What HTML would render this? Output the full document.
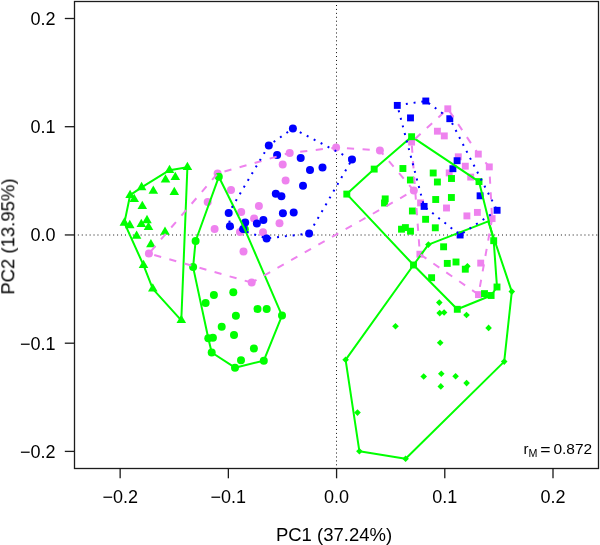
<!DOCTYPE html>
<html><head><meta charset="utf-8">
<style>
html,body{margin:0;padding:0;background:#fff;width:600px;height:545px;overflow:hidden}
svg{display:block;will-change:transform}
text{font-family:"Liberation Sans",sans-serif;fill:#000}
</style></head>
<body>
<svg width="600" height="545" viewBox="0 0 600 545">
<defs><filter id="b" x="0" y="0" width="1" height="1"><feGaussianBlur stdDeviation="0.3"/></filter></defs>
<g filter="url(#b)">
<rect width="600" height="545" fill="#fff"/>
<g stroke="#111" stroke-width="1" fill="none">
<line x1="77.83" y1="235" x2="598" y2="235" stroke-dasharray="1 2.9274"/>
<line x1="336.5" y1="5.01" x2="336.5" y2="468" stroke-dasharray="1 2.9256"/>
</g>
<g fill="#ee82ee"><circle cx="148.9" cy="253.5" r="4"/><circle cx="217.6" cy="173.5" r="4"/><circle cx="231" cy="190" r="4"/><circle cx="207.7" cy="202" r="4"/><circle cx="214.6" cy="229.1" r="4"/><circle cx="241.2" cy="212.1" r="4"/><circle cx="258.9" cy="206" r="4"/><circle cx="254.1" cy="218.6" r="4"/><circle cx="240" cy="232" r="4"/><circle cx="263" cy="232.2" r="4"/><circle cx="279.5" cy="223.2" r="4"/><circle cx="243.5" cy="251.6" r="4"/><circle cx="251.7" cy="282.6" r="4"/><circle cx="289.7" cy="152.9" r="4"/><circle cx="282.7" cy="164.4" r="4"/><circle cx="285.6" cy="180.5" r="4"/><circle cx="336.1" cy="147.6" r="4"/><circle cx="379.9" cy="150.5" r="4"/><circle cx="413.8" cy="190.5" r="4"/><rect x="444.35" y="105.35" width="6.9" height="6.9"/><rect x="433.95" y="127.75" width="6.9" height="6.9"/><rect x="440.85" y="132.45" width="6.9" height="6.9"/><rect x="408.15" y="138.65" width="6.9" height="6.9"/><rect x="474.85" y="150.65" width="6.9" height="6.9"/><rect x="454.85" y="153.35" width="6.9" height="6.9"/><rect x="461.85" y="162.75" width="6.9" height="6.9"/><rect x="485.85" y="163.45" width="6.9" height="6.9"/><rect x="445.75" y="169.45" width="6.9" height="6.9"/><rect x="467.25" y="173.65" width="6.9" height="6.9"/><rect x="417.15" y="199.45" width="6.9" height="6.9"/><rect x="443.05" y="204.55" width="6.9" height="6.9"/><rect x="473.95" y="208.95" width="6.9" height="6.9"/><rect x="463.45" y="212.45" width="6.9" height="6.9"/><rect x="488.65" y="215.15" width="6.9" height="6.9"/><rect x="416.45" y="250.75" width="6.9" height="6.9"/><rect x="477.25" y="259.65" width="6.9" height="6.9"/><rect x="475.05" y="291.15" width="6.9" height="6.9"/></g>
<g fill="#00ff00"><path d="M169.5 164.66L174.3 172.97L164.7 172.97z"/><path d="M187.4 161.66L192.2 169.97L182.6 169.97z"/><path d="M175.3 171.76L180.1 180.07L170.5 180.07z"/><path d="M165.5 174.26L170.3 182.57L160.7 182.57z"/><path d="M141.6 181.86L146.4 190.17L136.8 190.17z"/><path d="M153.3 185.56L158.1 193.87L148.5 193.87z"/><path d="M174.3 186.76L179.1 195.07L169.5 195.07z"/><path d="M130.1 189.66L134.9 197.97L125.3 197.97z"/><path d="M134.2 193.66L139 201.97L129.4 201.97z"/><path d="M142.3 200.66L147.1 208.97L137.5 208.97z"/><path d="M124.4 217.36L129.2 225.67L119.6 225.67z"/><path d="M129.8 219.86L134.6 228.17L125 228.17z"/><path d="M141.3 218.76L146.1 227.07L136.5 227.07z"/><path d="M147 214.86L151.8 223.17L142.2 223.17z"/><path d="M148.5 221.76L153.3 230.07L143.7 230.07z"/><path d="M165 226.56L169.8 234.87L160.2 234.87z"/><path d="M136.6 230.56L141.4 238.87L131.8 238.87z"/><path d="M150.9 238.96L155.7 247.27L146.1 247.27z"/><path d="M143.5 259.66L148.3 267.97L138.7 267.97z"/><path d="M152.8 283.26L157.6 291.57L148 291.57z"/><path d="M181.3 314.76L186.1 323.07L176.5 323.07z"/><circle cx="218.8" cy="176.8" r="4"/><circle cx="244.8" cy="229.3" r="4"/><circle cx="195.6" cy="241" r="4"/><circle cx="193.1" cy="267.1" r="4"/><circle cx="213.9" cy="295.1" r="4"/><circle cx="233.3" cy="292.3" r="4"/><circle cx="205.6" cy="302.9" r="4"/><circle cx="257.5" cy="309" r="4"/><circle cx="266.7" cy="309" r="4"/><circle cx="282" cy="315.6" r="4"/><circle cx="235.9" cy="315.7" r="4"/><circle cx="221.7" cy="326.8" r="4"/><circle cx="234" cy="335" r="4"/><circle cx="208.3" cy="338.3" r="4"/><circle cx="212.9" cy="337.8" r="4"/><circle cx="253.9" cy="348.4" r="4"/><circle cx="211.7" cy="352.5" r="4"/><circle cx="241" cy="360.2" r="4"/><circle cx="235" cy="367.7" r="4"/><circle cx="263.8" cy="360.7" r="4"/><rect x="343.35" y="190.65" width="6.9" height="6.9"/><rect x="370.75" y="165.65" width="6.9" height="6.9"/><rect x="408.15" y="133.25" width="6.9" height="6.9"/><rect x="399.45" y="165.05" width="6.9" height="6.9"/><rect x="406.95" y="176.55" width="6.9" height="6.9"/><rect x="381.75" y="195.45" width="6.9" height="6.9"/><rect x="381.05" y="199.55" width="6.9" height="6.9"/><rect x="429.75" y="169.55" width="6.9" height="6.9"/><rect x="433.95" y="178.55" width="6.9" height="6.9"/><rect x="448.05" y="175.05" width="6.9" height="6.9"/><rect x="432.25" y="196.05" width="6.9" height="6.9"/><rect x="447.95" y="194.05" width="6.9" height="6.9"/><rect x="408.95" y="207.55" width="6.9" height="6.9"/><rect x="422.15" y="215.85" width="6.9" height="6.9"/><rect x="431.85" y="224.35" width="6.9" height="6.9"/><rect x="398.05" y="225.75" width="6.9" height="6.9"/><rect x="401.95" y="224.15" width="6.9" height="6.9"/><rect x="407.05" y="227.75" width="6.9" height="6.9"/><rect x="475.55" y="178.15" width="6.9" height="6.9"/><rect x="490.25" y="237.25" width="6.9" height="6.9"/><rect x="440.15" y="243.35" width="6.9" height="6.9"/><rect x="443.85" y="259.95" width="6.9" height="6.9"/><rect x="452.55" y="258.55" width="6.9" height="6.9"/><rect x="461.85" y="265.75" width="6.9" height="6.9"/><rect x="428.15" y="274.25" width="6.9" height="6.9"/><rect x="410.05" y="261.55" width="6.9" height="6.9"/><rect x="493.55" y="283.55" width="6.9" height="6.9"/><rect x="487.65" y="292.05" width="6.9" height="6.9"/><rect x="481.05" y="290.15" width="6.9" height="6.9"/><rect x="453.85" y="305.85" width="6.9" height="6.9"/><path d="M428.4 241.3l3.3 3.3l-3.3 3.3l-3.3 -3.3z"/><path d="M467.4 263l3.3 3.3l-3.3 3.3l-3.3 -3.3z"/><path d="M439.3 299.3l3.3 3.3l-3.3 3.3l-3.3 -3.3z"/><path d="M439.7 309.8l3.3 3.3l-3.3 3.3l-3.3 -3.3z"/><path d="M444.1 309.2l3.3 3.3l-3.3 3.3l-3.3 -3.3z"/><path d="M466.5 311.7l3.3 3.3l-3.3 3.3l-3.3 -3.3z"/><path d="M488.6 324.6l3.3 3.3l-3.3 3.3l-3.3 -3.3z"/><path d="M440.2 339.5l3.3 3.3l-3.3 3.3l-3.3 -3.3z"/><path d="M511.8 288.3l3.3 3.3l-3.3 3.3l-3.3 -3.3z"/><path d="M504.2 358.3l3.3 3.3l-3.3 3.3l-3.3 -3.3z"/><path d="M423.7 373.2l3.3 3.3l-3.3 3.3l-3.3 -3.3z"/><path d="M441.3 370.4l3.3 3.3l-3.3 3.3l-3.3 -3.3z"/><path d="M455.6 373l3.3 3.3l-3.3 3.3l-3.3 -3.3z"/><path d="M466.6 379.8l3.3 3.3l-3.3 3.3l-3.3 -3.3z"/><path d="M440.8 383.1l3.3 3.3l-3.3 3.3l-3.3 -3.3z"/><path d="M395.5 322.9l3.3 3.3l-3.3 3.3l-3.3 -3.3z"/><path d="M345.6 356.5l3.3 3.3l-3.3 3.3l-3.3 -3.3z"/><path d="M357.5 409.3l3.3 3.3l-3.3 3.3l-3.3 -3.3z"/><path d="M359.4 448l3.3 3.3l-3.3 3.3l-3.3 -3.3z"/><path d="M405.6 455.5l3.3 3.3l-3.3 3.3l-3.3 -3.3z"/></g>
<g fill="#0000ff"><circle cx="292.9" cy="128.5" r="4"/><circle cx="268.8" cy="145.4" r="4"/><circle cx="277.1" cy="155" r="4"/><circle cx="300.7" cy="157.9" r="4"/><circle cx="310" cy="170" r="4"/><circle cx="322.5" cy="167.5" r="4"/><circle cx="303" cy="185.8" r="4"/><circle cx="275.8" cy="193.8" r="4"/><circle cx="281.4" cy="196.2" r="4"/><circle cx="228.7" cy="212.9" r="4"/><circle cx="229.9" cy="226.3" r="4"/><circle cx="245.2" cy="222.6" r="4"/><circle cx="243.2" cy="228.9" r="4"/><circle cx="256.9" cy="223.5" r="4"/><circle cx="263.4" cy="219.9" r="4"/><circle cx="266.6" cy="238.4" r="4"/><circle cx="282.9" cy="213.3" r="4"/><circle cx="293.7" cy="212.5" r="4"/><circle cx="309.1" cy="233.6" r="4"/><circle cx="352" cy="159.4" r="4"/><rect x="393.85" y="101.95" width="6.9" height="6.9"/><rect x="422.35" y="97.55" width="6.9" height="6.9"/><rect x="407.05" y="114.45" width="6.9" height="6.9"/><rect x="446.35" y="115.25" width="6.9" height="6.9"/><rect x="453.65" y="157.25" width="6.9" height="6.9"/><rect x="449.45" y="165.25" width="6.9" height="6.9"/><rect x="476.65" y="192.35" width="6.9" height="6.9"/><rect x="493.65" y="206.85" width="6.9" height="6.9"/><rect x="420.65" y="202.95" width="6.9" height="6.9"/><rect x="456.65" y="231.55" width="6.9" height="6.9"/></g>
<g fill="none" stroke="#00ff00" stroke-width="2" stroke-linejoin="round"><path d="M169.5 170.2 L187.4 167.2 L181.3 320.3 L152.8 288.8 L143.5 265.2 L124.4 222.9 L130.1 195.2 L141.6 187.4 Z"/><path d="M218.8 176.8 L244.8 229.3 L282 315.6 L263.8 360.7 L235 367.7 L211.7 352.5 L208.3 338.3 L193.1 267.1 L195.6 241 Z"/><path d="M346.8 194.1 L374.2 169.1 L411.6 136.7 L479 181.6 L493.7 240.7 L497 287 L491.1 295.5 L457.3 309.3 L413.5 265 Z"/><path d="M428.4 244.6 L488.2 221.4 L511.8 291.6 L504.2 361.6 L405.6 458.8 L359.4 451.3 L345.6 359.8 L413.5 265 Z"/></g>
<g fill="none" stroke="#ee82ee" stroke-width="2" stroke-dasharray="7.2 8.47"><path d="M251.7 282.6 L148.9 253.5 L217.6 173.5 L289.7 152.9 L336.1 147.6 L379.9 150.5 L413.8 190.5 Z" stroke-dashoffset="-0.08"/><path d="M492.1 218.6 L478.5 294.6 L419.9 254.2 L411.6 142.1 L447.8 108.8 L478.3 154.1 L489.3 166.9 Z" stroke-dashoffset="0.56"/></g>
<g fill="none" stroke="#0000ff" stroke-width="2" stroke-dasharray="1.96 5.88"><path d="M309.1 233.6 L266.6 238.4 L229.9 226.3 L228.7 212.9 L268.8 145.4 L292.9 128.5 L352 159.4 Z" stroke-dashoffset="1.07"/><path d="M497.1 210.3 L460.1 235 L424.1 206.4 L397.3 105.4 L425.8 101 L449.8 118.7 Z" stroke-dashoffset="0.23"/></g>
<rect x="74.5" y="1.5" width="524" height="467" fill="none" stroke="#1a1a1a" stroke-width="1.3"/>
<g stroke="#1a1a1a" stroke-width="1.3">
<line x1="120.15" y1="468.5" x2="120.15" y2="478.3"/>
<line x1="228.36" y1="468.5" x2="228.36" y2="478.3"/>
<line x1="336.58" y1="468.5" x2="336.58" y2="478.3"/>
<line x1="444.79" y1="468.5" x2="444.79" y2="478.3"/>
<line x1="553.0" y1="468.5" x2="553.0" y2="478.3"/>
<line x1="64.8" y1="18.5" x2="74.5" y2="18.5"/>
<line x1="64.8" y1="126.7" x2="74.5" y2="126.7"/>
<line x1="64.8" y1="234.95" x2="74.5" y2="234.95"/>
<line x1="64.8" y1="343.2" x2="74.5" y2="343.2"/>
<line x1="64.8" y1="451.4" x2="74.5" y2="451.4"/>
</g>
<g font-size="18" text-anchor="middle">
<text x="120.15" y="502.5">&#8722;0.2</text>
<text x="228.36" y="502.5">&#8722;0.1</text>
<text x="336.58" y="502.5">0.0</text>
<text x="444.79" y="502.5">0.1</text>
<text x="553.0" y="502.5">0.2</text>
</g>
<g font-size="18" text-anchor="end">
<text x="55.5" y="24.90">0.2</text>
<text x="55.5" y="133.10">0.1</text>
<text x="55.5" y="241.35">0.0</text>
<text x="55.5" y="349.60">&#8722;0.1</text>
<text x="55.5" y="457.80">&#8722;0.2</text>
</g>
<text x="334" y="540.7" font-size="18.5" text-anchor="middle">PC1 (37.24%)</text>
<text transform="translate(14.3,236.6) rotate(-90)" font-size="18.5" text-anchor="middle">PC2 (13.95%)</text>
<text x="523.4" y="454.1" font-size="15">r</text>
<text x="528.6" y="456.8" font-size="10.7">M</text>
<text x="540.3" y="455.4" font-size="15" textLength="10.3" lengthAdjust="spacingAndGlyphs">=</text>
<text x="553.4" y="454.2" font-size="15.5">0.872</text>
</g>
</svg>
</body></html>
